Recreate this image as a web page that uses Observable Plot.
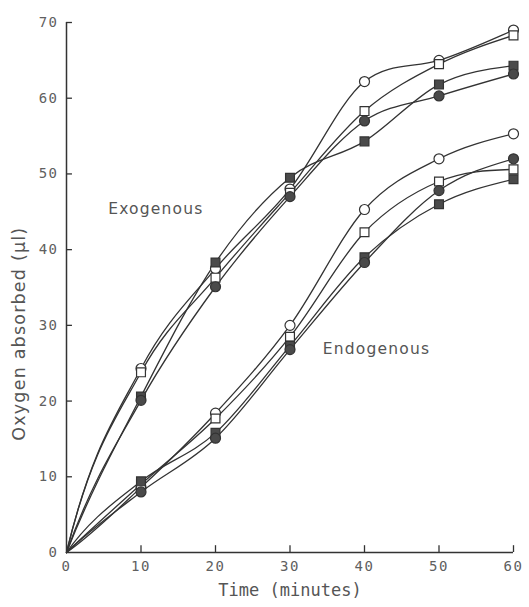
<!DOCTYPE html>
<html>
<head>
<meta charset="utf-8">
<script src="https://cdn.jsdelivr.net/npm/d3@7"></script>
<script src="https://cdn.jsdelivr.net/npm/@observablehq/plot@0.6"></script>
<style>
  html, body { margin: 0; padding: 0; background: #fff; }
  #chart svg { display: block; }
</style>
</head>
<body>
<div id="chart"></div>
<script>
// Time points (minutes)
const times = [0, 10, 20, 30, 40, 50, 60];

// Exogenous series
const exoOpenCircle   = [0, 24.3, 37.5, 48.0, 62.2, 65.0, 69.0];
const exoOpenSquare   = [0, 23.8, 36.3, 47.5, 58.3, 64.5, 68.3];
const exoFilledSquare = [0, 20.6, 38.3, 49.5, 54.3, 61.8, 64.3];
const exoFilledCircle = [0, 20.1, 35.1, 47.0, 57.0, 60.3, 63.2];

// Endogenous series
const endoOpenCircle   = [0, 8.6, 18.4, 30.0, 45.3, 52.0, 55.3];
const endoOpenSquare   = [0, 9.0, 17.7, 28.5, 42.3, 49.0, 50.6];
const endoFilledSquare = [0, 9.4, 15.8, 27.3, 39.0, 46.0, 49.3];
const endoFilledCircle = [0, 8.0, 15.1, 26.8, 38.3, 47.8, 52.0];

const xTicks = [0, 10, 20, 30, 40, 50, 60];
const yTicks = [0, 10, 20, 30, 40, 50, 60, 70];

const seriesDefs = [
  {name: "exoOpenCircle", values: exoOpenCircle, symbol: "circle", filled: false},
  {name: "exoOpenSquare", values: exoOpenSquare, symbol: "square", filled: false},
  {name: "exoFilledSquare", values: exoFilledSquare, symbol: "square", filled: true},
  {name: "exoFilledCircle", values: exoFilledCircle, symbol: "circle", filled: true},
  {name: "endoOpenCircle", values: endoOpenCircle, symbol: "circle", filled: false},
  {name: "endoOpenSquare", values: endoOpenSquare, symbol: "square", filled: false},
  {name: "endoFilledSquare", values: endoFilledSquare, symbol: "square", filled: true},
  {name: "endoFilledCircle", values: endoFilledCircle, symbol: "circle", filled: true}
];

const rows = seriesDefs.flatMap(s =>
  s.values.map((v, i) => ({series: s.name, t: times[i], v, symbol: s.symbol, filled: s.filled}))
);
const markers = rows.filter(d => d.t > 0);

const groupLabels = [
  {t: 5.6, v: 45.4, text: "Exogenous"},
  {t: 34.4, v: 26.9, text: "Endogenous"}
];
const yTitle = [{t: -6.3, v: 28.9, text: "Oxygen absorbed (µl)"}];
const xTitle = [{t: 30, v: -5.0, text: "Time (minutes)"}];

const ink = "#333";
const grey = "#555";
const tickGrey = "#606060";
const fillDark = "#4a4a4a";

// Smooth hand-drawn-like curve: cubic Hermite through the points with
// averaged interior tangents, a bowed start tangent, and Fritsch–Carlson limiting.
function SmoothCurve(context) { this._context = context; }
SmoothCurve.prototype = {
  areaStart() { this._line = 0; },
  areaEnd() { this._line = NaN; },
  lineStart() { this._xs = []; this._ys = []; },
  point(x, y) { this._xs.push(+x); this._ys.push(+y); },
  lineEnd() {
    const X = this._xs, Y = this._ys, n = X.length, c = this._context;
    if (!n) return;
    c.moveTo(X[0], Y[0]);
    if (n === 1) return;
    const s = [];
    for (let i = 0; i < n - 1; i++) s.push((Y[i + 1] - Y[i]) / (X[i + 1] - X[i]));
    const m = new Array(n);
    for (let i = 1; i < n - 1; i++) m[i] = s[i - 1] * s[i] <= 0 ? 0 : (s[i - 1] + s[i]) / 2;
    if (n === 2) { m[0] = m[1] = s[0]; }
    else {
      m[0] = s[0] + 3 * (s[0] - m[1]);
      if (m[0] * s[0] <= 0) m[0] = 0;
      if (Math.abs(m[0]) > 2.8 * Math.abs(s[0])) m[0] = 2.8 * s[0];
      m[n - 1] = (3 * s[n - 2] - m[n - 2]) / 2;
      if (m[n - 1] * s[n - 2] <= 0) m[n - 1] = 0;
    }
    for (let i = 1; i < n - 1; i++) {
      if (s[i] === 0) { m[i] = 0; m[i + 1] = 0; continue; }
      const a = m[i] / s[i], b = m[i + 1] / s[i], q = a * a + b * b;
      if (q > 9) { const tau = 3 / Math.sqrt(q); m[i] = tau * a * s[i]; m[i + 1] = tau * b * s[i]; }
    }
    for (let i = 0; i < n - 1; i++) {
      const h = (X[i + 1] - X[i]) / 3;
      c.bezierCurveTo(X[i] + h, Y[i] + h * m[i], X[i + 1] - h, Y[i + 1] - h * m[i + 1], X[i + 1], Y[i + 1]);
    }
  }
};
const smoothCurve = context => new SmoothCurve(context);

const chart = Plot.plot({
  width: 529,
  height: 607,
  marginLeft: 66,
  marginRight: 16,
  marginTop: 22,
  marginBottom: 55,
  style: {background: "#fff", color: grey},
  x: {domain: [0, 60]},
  y: {domain: [0, 70]},
  symbol: {type: "identity"},
  marks: [
    // axis lines
    Plot.ruleY([0], {stroke: ink, strokeWidth: 1.5}),
    Plot.ruleX([0], {stroke: ink, strokeWidth: 1.5}),
    // inward ticks
    Plot.ruleX(xTicks.filter(d => d > 0), {x: d => d, y1: 0, y2: 0.9, stroke: ink, strokeWidth: 1.3}),
    Plot.ruleY(yTicks.filter(d => d > 0), {y: d => d, x1: 0, x2: 0.8, stroke: ink, strokeWidth: 1.3}),
    Plot.axisX({
      ticks: xTicks, tickSize: 0, tickPadding: 9,
      fontFamily: "DejaVu Sans Mono", fontSize: 14, fill: tickGrey, label: null
    }),
    Plot.axisY({
      ticks: yTicks, tickSize: 0, tickPadding: 8,
      fontFamily: "DejaVu Sans Mono", fontSize: 14, fill: tickGrey, label: null
    }),
    // curves
    Plot.line(rows, {x: "t", y: "v", z: "series", curve: smoothCurve, stroke: ink, strokeWidth: 1.3}),
    // markers
    Plot.dot(markers, {
      x: "t", y: "v", symbol: "symbol", r: 5,
      fill: d => d.filled ? fillDark : "#fff",
      stroke: ink, strokeWidth: 1.2
    }),
    // group labels
    Plot.text(groupLabels, {
      x: "t", y: "v", text: "text", textAnchor: "start",
      fontFamily: "DejaVu Sans", fontSize: 15.5, fill: grey
    }),
    // axis titles
    Plot.text(yTitle, {
      x: "t", y: "v", text: "text", rotate: -90, clip: false,
      fontFamily: "DejaVu Sans", fontSize: 17.5, fill: grey
    }),
    Plot.text(xTitle, {
      x: "t", y: "v", text: "text", clip: false,
      fontFamily: "DejaVu Sans Mono", fontSize: 17, fill: grey
    })
  ]
});

d3.select(chart).selectAll("g[aria-label='text'] text")
  .filter(function() { return this.textContent !== "Time (minutes)"; })
  .attr("letter-spacing", "1.2");
d3.select(chart).selectAll("g[aria-label='x-axis tick label'] text, g[aria-label='y-axis tick label'] text")
  .attr("letter-spacing", "1.5");

document.getElementById("chart").appendChild(chart);
</script>
</body>
</html>
